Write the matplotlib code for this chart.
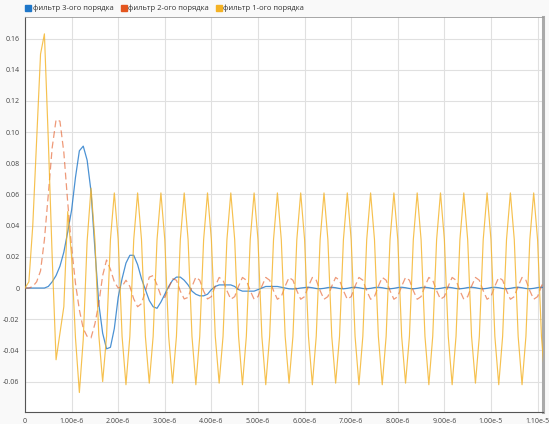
import numpy as np
import matplotlib
matplotlib.use("Agg")
from matplotlib import pyplot as plt
from matplotlib.lines import Line2D

# sample step of the simulation, 1/12 of a microsecond
dt = 1e-6 / 12

# filter outputs (one value per sample, 12 samples per microsecond)
order1 = [
    0, 0.004, 0.040, 0.095, 0.150, 0.163, 0.095, 0.020, -0.046, -0.029, -0.012, 0.049,
    0.020, -0.032, -0.067, -0.033, 0.030, 0.064, 0.031, -0.030, -0.060, -0.031, 0.031, 0.061,
    0.031, -0.031, -0.062, -0.031, 0.031, 0.061, 0.031, -0.031, -0.061, -0.031, 0.031, 0.061,
    0.031, -0.031, -0.061, -0.031, 0.031, 0.061, 0.031, -0.031, -0.062, -0.031, 0.031, 0.061,
    0.031, -0.031, -0.061, -0.031, 0.031, 0.061, 0.031, -0.031, -0.062, -0.031, 0.031, 0.061,
    0.031, -0.031, -0.062, -0.031, 0.031, 0.061, 0.031, -0.031, -0.061, -0.031, 0.031, 0.061,
    0.031, -0.031, -0.062, -0.031, 0.031, 0.061, 0.031, -0.031, -0.061, -0.031, 0.031, 0.061,
    0.031, -0.031, -0.062, -0.031, 0.031, 0.061, 0.031, -0.031, -0.062, -0.031, 0.031, 0.061,
    0.031, -0.031, -0.061, -0.031, 0.031, 0.061, 0.031, -0.031, -0.062, -0.031, 0.031, 0.061,
    0.031, -0.031, -0.062, -0.031, 0.031, 0.061, 0.031, -0.031, -0.061, -0.031, 0.031, 0.061,
    0.031, -0.031, -0.062, -0.031, 0.031, 0.061, 0.031, -0.031, -0.062, -0.031, 0.031, 0.061,
    0.031, -0.031, -0.062,
]
order2 = [
    0, 0, 0.001, 0.004, 0.011, 0.031, 0.060, 0.090, 0.108, 0.107, 0.087, 0.055,
    0.026, 0.003, -0.014, -0.026, -0.031, -0.032, -0.023, -0.010, 0.008, 0.018, 0.012, 0.004,
    0.000, 0.001, 0.005, 0.001, -0.007, -0.012, -0.010, -0.002, 0.007, 0.008, 0.002, -0.005,
    -0.006, 0.000, 0.006, 0.005, -0.002, -0.007, -0.006, 0.001, 0.007, 0.005, -0.002, -0.007,
    -0.0055, 0.0012, 0.0068, 0.005, -0.0017, -0.0072, -0.0055, 0.0012, 0.0068, 0.005, -0.0017, -0.0072,
    -0.0055, 0.0012, 0.0068, 0.005, -0.0017, -0.0072, -0.0055, 0.0012, 0.0068, 0.005, -0.0017, -0.0072,
    -0.0055, 0.0012, 0.0068, 0.005, -0.0017, -0.0072, -0.0055, 0.0012, 0.0068, 0.005, -0.0017, -0.0072,
    -0.0055, 0.0012, 0.0068, 0.005, -0.0017, -0.0072, -0.0055, 0.0012, 0.0068, 0.005, -0.0017, -0.0072,
    -0.0055, 0.0012, 0.0068, 0.005, -0.0017, -0.0072, -0.0055, 0.0012, 0.0068, 0.005, -0.0017, -0.0072,
    -0.0055, 0.0012, 0.0068, 0.005, -0.0017, -0.0072, -0.0055, 0.0012, 0.0068, 0.005, -0.0017, -0.0072,
    -0.0055, 0.0012, 0.0068, 0.005, -0.0017, -0.0072, -0.0055, 0.0012, 0.0068, 0.005, -0.0017, -0.0072,
    -0.0055, 0.0012, 0.0068,
]
order3 = [
    0, 0, 0, 0, 0, 0, 0.001, 0.004, 0.008, 0.014, 0.023, 0.036,
    0.050, 0.071, 0.088, 0.091, 0.082, 0.062, 0.025, -0.010, -0.029, -0.039, -0.038, -0.026,
    -0.006, 0.006, 0.016, 0.021, 0.021, 0.015, 0.006, -0.001, -0.008, -0.012, -0.013, -0.009,
    -0.004, 0.001, 0.005, 0.007, 0.007, 0.005, 0.002, -0.002, -0.004, -0.005, -0.005, -0.004,
    -0.001, 0.001, 0.002, 0.002, 0.002, 0.002, 0.001, -0.001, -0.002, -0.002, -0.002, -0.002,
    -0.001, 0.000, 0.001, 0.001, 0.001, 0.001, 0.0005, 0.000, -0.0005, -0.0006, -0.0004, 0.000,
    0.0003, 0.0005, 0.0002, -0.0003, -0.0005, -0.0002, 0.0003, 0.0005, 0.0002, -0.0003, -0.0005, -0.0002,
    0.0003, 0.0005, 0.0002, -0.0003, -0.0005, -0.0002, 0.0003, 0.0005, 0.0002, -0.0003, -0.0005, -0.0002,
    0.0003, 0.0005, 0.0002, -0.0003, -0.0005, -0.0002, 0.0003, 0.0005, 0.0002, -0.0003, -0.0005, -0.0002,
    0.0003, 0.0005, 0.0002, -0.0003, -0.0005, -0.0002, 0.0003, 0.0005, 0.0002, -0.0003, -0.0005, -0.0002,
    0.0003, 0.0005, 0.0002, -0.0003, -0.0005, -0.0002, 0.0003, 0.0005, 0.0002, -0.0003, -0.0005, -0.0002,
    0.0003, 0.0005, 0.0002,
]

labels = ["фильтр 3-ого порядка", "фильтр 2-ого порядка", "фильтр 1-ого порядка"]
colors = ["#1f77c9", "#e4561f", "#f4b224"]

xticks = [i * 1e-6 for i in range(12)]
xlabels = ["0", "1.00e-6", "2.00e-6", "3.00e-6", "4.00e-6", "5.00e-6", "6.00e-6",
           "7.00e-6", "8.00e-6", "9.00e-6", "1.00e-5", "1.10e-5"]
yticks = [-0.06, -0.04, -0.02, 0, 0.02, 0.04, 0.06, 0.08, 0.10, 0.12, 0.14, 0.16]
ylabels = ["-0.06", "-0.04", "-0.02", "0", "0.02", "0.04", "0.06", "0.08",
           "0.10", "0.12", "0.14", "0.16"]

plt.rcParams['font.family'] = ['Open Sans', 'DejaVu Sans']

fig = plt.figure(figsize=(5.49, 4.24), dpi=100, facecolor="#f9f9f9")
ax = fig.add_axes([25 / 549, 12 / 424, 517.7 / 549, 395.3 / 424])
ax.set_facecolor("white")

t = np.arange(len(order1)) * dt
ax.plot(t, order3, color=colors[0], lw=0.9, alpha=0.8, zorder=3)
ax.plot(t, order2, color=colors[1], lw=0.9, alpha=0.6, dashes=(5.5, 3), zorder=3)
ax.plot(t, order1, color=colors[2], lw=0.85, alpha=0.8, zorder=3)

ax.set_xlim(0, 11.11e-6)
ax.set_ylim(-0.0795, 0.174)
ax.set_xticks(xticks)
ax.set_xticklabels(xlabels)
ax.set_yticks(yticks)
ax.set_yticklabels(ylabels)
ax.tick_params(length=0, labelsize=5, colors="#444", pad=4)
ax.grid(True, color="#e0e0e0", lw=0.8)
ax.set_axisbelow(True)

for side in ["left", "bottom"]:
    ax.spines[side].set_color("#555")
    ax.spines[side].set_linewidth(0.8)
ax.spines["top"].set_color("#999")
ax.spines["top"].set_linewidth(0.6)
ax.spines["right"].set_color("#aaa")
ax.spines["right"].set_linewidth(2.2)

handles = [Line2D([], [], marker="s", ls="none", color=c, markersize=4) for c in colors]
fig.legend(handles, labels, loc="upper left", bbox_to_anchor=(0.035, 1.005), ncol=3,
           frameon=False, fontsize=5.5, handlelength=0.6, handletextpad=0.3,
           columnspacing=1.0, labelcolor="#333")

fig.savefig("out.png", dpi=100, facecolor=fig.get_facecolor())
